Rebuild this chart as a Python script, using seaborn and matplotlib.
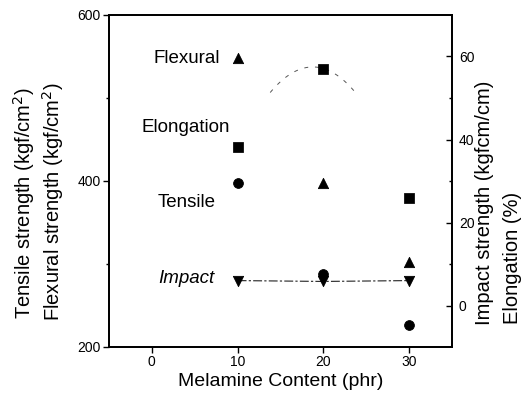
import numpy as np
import pandas as pd
import matplotlib
matplotlib.use("Agg")
import matplotlib.pyplot as plt
import seaborn as sns

melamine = [10, 20, 30]
tensile = [397, 288, 227]
flexural = [548, 397, 303]
impact = [6.0, 5.8, 6.0]
elongation = [38.3, 57.1, 26.0]

sns.set_style("ticks")
plt.rcParams["font.family"] = ["Liberation Sans", "DejaVu Sans"]
plt.rcParams["axes.linewidth"] = 1.3
plt.rcParams["text.color"] = "black"
plt.rcParams["axes.labelcolor"] = "black"
plt.rcParams["xtick.color"] = "black"
plt.rcParams["ytick.color"] = "black"

df = pd.DataFrame({"x": melamine, "tensile": tensile, "flexural": flexural,
                   "impact": impact, "elongation": elongation})

fig = plt.figure(figsize=(5.24, 4.07), dpi=100)
ax = fig.add_axes([109 / 524, 60 / 407, 343 / 524, 332 / 407])
ax2 = ax.twinx()

sns.scatterplot(data=df, x="x", y="flexural", marker="^", s=55, color="black",
                edgecolor="black", ax=ax, zorder=3)
sns.scatterplot(data=df, x="x", y="tensile", marker="o", s=50, color="black",
                edgecolor="black", ax=ax, zorder=3)

# fitted guide curve for elongation (only a faint part survives)
coef = np.polyfit(melamine, elongation, 2)
xs = np.linspace(13.8, 24, 60)
ax2.plot(xs, np.polyval(coef, xs), color="#555555", lw=0.7,
         linestyle=(0, (4, 7)), zorder=1)
sns.lineplot(data=df, x="x", y="impact", color="#222222", lw=0.8,
             linestyle=(0, (8, 2, 2, 2)), ax=ax2, zorder=1)
sns.scatterplot(data=df, x="x", y="elongation", marker="s", s=45, color="black",
                edgecolor="black", ax=ax2, zorder=3)
sns.scatterplot(data=df, x="x", y="impact", marker="v", s=55, color="black",
                edgecolor="black", ax=ax2, zorder=3)

ax.set_xlim(-5, 35)
ax.set_ylim(200, 600)
ax2.set_ylim(-10, 70)
ax.set_xticks([0, 10, 20, 30])
ax.set_yticks([200, 400, 600])
ax.set_yticks([300, 500], minor=True)
ax2.set_yticks([0, 20, 40, 60])
ax2.set_yticks([10, 30, 50], minor=True)

ax.tick_params(axis="both", which="major", direction="out", length=4, width=1,
               labelsize=10, pad=2)
ax.tick_params(axis="y", which="minor", direction="out", length=2.5, width=1)
ax2.tick_params(axis="y", which="major", direction="in", length=4, width=1,
                labelsize=10, pad=5)
ax2.tick_params(axis="y", which="minor", direction="in", length=2.5, width=1)

for a in (ax, ax2):
    a.set_xlabel("")
    a.set_ylabel("")
    for sp in a.spines.values():
        sp.set_visible(True)
        sp.set_color("black")

fig.text(281 / 524, 1 - 382 / 407, "Melamine Content (phr)", ha="center",
         va="center", fontsize=14)
fig.text(24 / 524, 1 - 319 / 407, "Tensile strength (kgf/cm$^2$)", rotation=90,
         ha="center", va="bottom", fontsize=14.5)
fig.text(53 / 524, 1 - 321 / 407, "Flexural strength (kgf/cm$^2$)", rotation=90,
         ha="center", va="bottom", fontsize=14.5)
fig.text(484 / 524, 1 - 325 / 407, "Impact strength (kgfcm/cm)", rotation=90,
         ha="center", va="bottom", fontsize=14.5)
fig.text(512 / 524, 1 - 324 / 407, "Elongation (%)", rotation=90,
         ha="center", va="bottom", fontsize=14.5)

ax.text(0.2, 548, "Flexural", fontsize=13.5, va="center")
ax.text(-1.2, 465, "Elongation", fontsize=13.5, va="center")
ax.text(0.7, 374, "Tensile", fontsize=13.5, va="center")
ax.text(0.7, 283, "Impact", fontsize=13.5, va="center", style="italic")

fig.savefig("out.png", dpi=100, facecolor="white")
